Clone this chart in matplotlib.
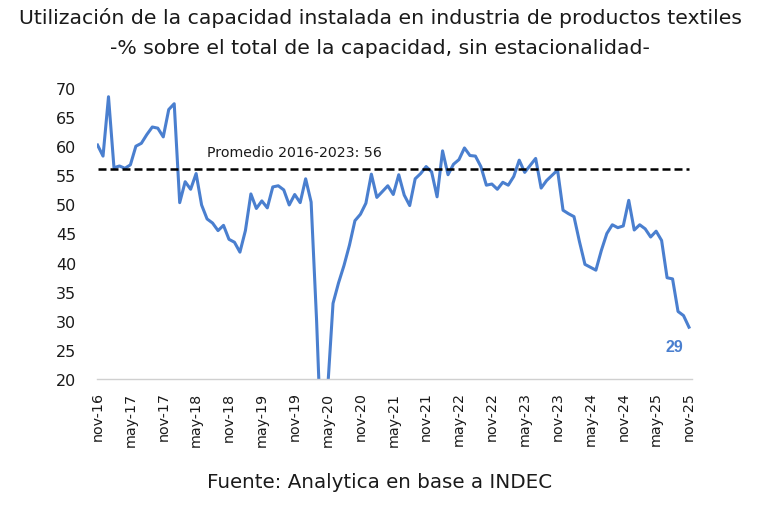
import matplotlib
matplotlib.use('Agg')
import matplotlib.pyplot as plt

plt.rcParams['font.family'] = ['DejaVu Sans']

# monthly values, nov-16 .. nov-25
valores = [60.2, 58.3, 68.5, 56.3, 56.6, 56.2, 56.8, 60.0, 60.5, 62.0,
           63.3, 63.1, 61.6, 66.3, 67.3, 50.3, 53.9, 52.6, 55.3, 49.9,
           47.5, 46.8, 45.5, 46.4, 44.0, 43.5, 41.8, 45.5, 51.8, 49.3,
           50.6, 49.4, 53.0, 53.2, 52.5, 49.9, 51.7, 50.3, 54.4, 50.4,
           30.0, 5.0, 18.0, 33.0, 36.5, 39.5, 43.0, 47.2, 48.3, 50.2,
           55.2, 51.2, 52.2, 53.2, 51.7, 55.1, 51.6, 49.8, 54.4, 55.3,
           56.5, 55.6, 51.3, 59.2, 55.1, 56.9, 57.7, 59.7, 58.4, 58.3,
           56.5, 53.3, 53.5, 52.6, 53.8, 53.3, 54.8, 57.6, 55.5, 56.7,
           57.9, 52.8, 54.1, 55.0, 55.9, 49.0, 48.4, 47.9, 43.6, 39.7,
           39.2, 38.7, 42.1, 45.0, 46.5, 46.0, 46.3, 50.7, 45.6, 46.5,
           45.8, 44.4, 45.4, 43.8, 37.4, 37.2, 31.6, 30.9, 28.9]
etiquetas = ['nov-16', 'may-17', 'nov-17', 'may-18', 'nov-18', 'may-19',
             'nov-19', 'may-20', 'nov-20', 'may-21', 'nov-21', 'may-22',
             'nov-22', 'may-23', 'nov-23', 'may-24', 'nov-24', 'may-25',
             'nov-25']
promedio = 56
ultimo = 29

meses = list(range(len(valores)))
azul = '#4a7fcf'
texto = '#1a1a1a'

fig = plt.figure(figsize=(7.6, 5.06), dpi=100)
ax = fig.add_axes([97/760, 126/506, 595/760, 291/506])

ax.plot(meses, valores, color=azul, linewidth=2.2, solid_joinstyle='round')
ax.plot([0, len(valores) - 1], [promedio, promedio], color='black',
        linestyle=(0, (3.2, 1.6)), linewidth=1.8)

ax.set_xlim(-0.1, 108.55)
ax.set_ylim(20, 70)
ax.set_yticks(range(20, 71, 5))
ax.set_xticks(meses[::6])
ax.set_xticklabels(etiquetas, rotation=90, fontsize=10.3, color=texto)
ax.tick_params(axis='y', length=0, pad=15, labelsize=11.5, labelcolor=texto)
ax.tick_params(axis='x', length=0, pad=9)

for s in ['top', 'right', 'left']:
    ax.spines[s].set_visible(False)
ax.spines['bottom'].set_color('#d0d0d0')
ax.spines['bottom'].set_linewidth(1)

ax.text(20, 57.8, 'Promedio 2016-2023: 56', fontsize=10.2, color=texto,
        va='bottom', ha='left')
ax.text(105.3, 25.6, str(ultimo), fontsize=11.5, fontweight='bold',
        color=azul, ha='center', va='center', family='Liberation Sans')

fig.text(0.5, 1 - 18/506, 'Utilización de la capacidad instalada en industria de productos textiles',
         ha='center', va='center', fontsize=14.7, color=texto)
fig.text(0.5, 1 - 48/506, '-% sobre el total de la capacidad, sin estacionalidad-',
         ha='center', va='center', fontsize=14.7, color=texto)
fig.text(0.5, 1 - 482/506, 'Fuente: Analytica en base a INDEC',
         ha='center', va='center', fontsize=14.3, color=texto)

fig.savefig('out.png', dpi=100)
